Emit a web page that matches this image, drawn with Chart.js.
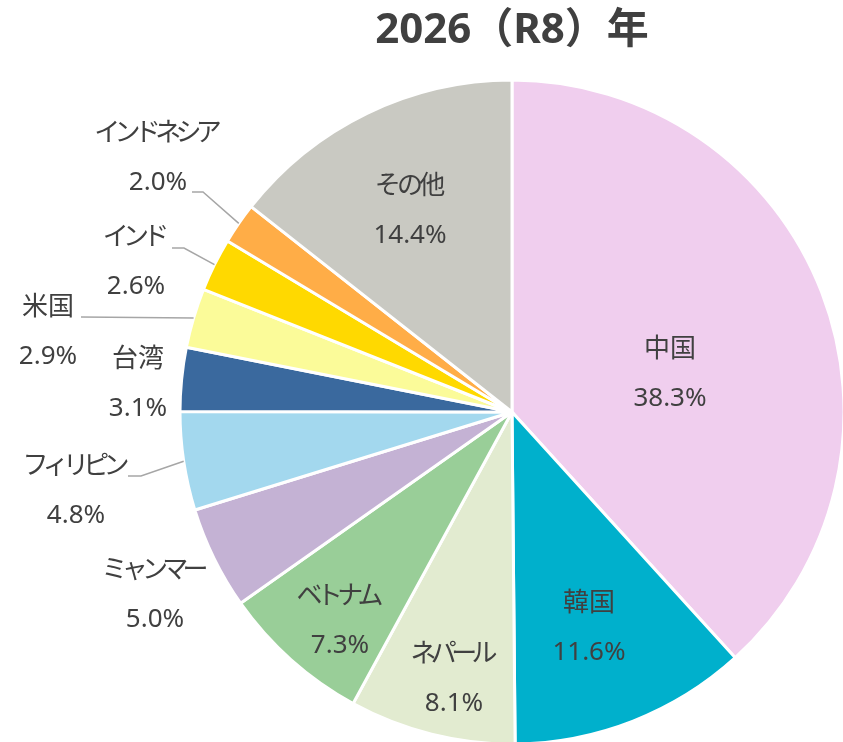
<!DOCTYPE html>
<html lang="ja">
<head>
<meta charset="utf-8">
<title>2026（R8）年</title>
<script src="https://cdn.jsdelivr.net/npm/chart.js@4.4.1/dist/chart.umd.min.js"></script>
<style>
  html, body { margin: 0; padding: 0; background: #fff; overflow: hidden; }
  #wrap { width: 843px; height: 760px; }
</style>
</head>
<body>
<div id="wrap"><canvas id="pie" width="843" height="760"></canvas></div>
<script>
const chartTitle = '2026（R8）年';
const countries = ['中国', '韓国', 'ネパール', 'ベトナム', 'ミャンマー', 'フィリピン', '台湾', '米国', 'インド', 'インドネシア', 'その他'];
const shares = [38.3, 11.6, 8.1, 7.3, 5.0, 4.8, 3.1, 2.9, 2.6, 2.0, 14.4];
const sliceColors = [
  'rgb(240,206,238)', 'rgb(0,176,204)', 'rgb(226,235,208)', 'rgb(153,206,152)',
  'rgb(196,178,212)', 'rgb(163,216,238)', 'rgb(58,105,158)', 'rgb(251,251,153)',
  'rgb(255,217,0)', 'rgb(255,173,71)', 'rgb(201,201,194)'
];

// where each label block sits, relative to the pie centre (x, middle y)
const labelPos = [
  [158, -38], [77, 216], [-58, 267], [-172, 209], [-357, 183], [-436, 79],
  [-374, -28], [-464, -80], [-376, -150], [-354, -254], [-102, -201]
];
// leader lines: [start x, start y, elbow x, elbow y] relative to centre, ends on the slice edge
const leaders = {
  5: [-384, 64, -371, 64],
  7: [-431, -95, -431, -95],
  8: [-340, -164, -328, -164],
  9: [-320, -220, -309, -220]
};

const FONT = "'Noto Sans', 'Noto Sans CJK JP', sans-serif";
const TEXT = '#404040';
const SIZE = 26;

// kana are set a bit narrower than full width, like the original
function drawJp(ctx, text, x, y) {
  ctx.letterSpacing = '0px';
  const natural = ctx.measureText(text).width;
  let want = 0;
  for (const ch of text) want += /[\u3040-\u30FF]/.test(ch) ? 0.78 * SIZE : SIZE;
  const ls = (want - natural) / text.length;
  ctx.letterSpacing = ls + 'px';
  ctx.fillText(text, x + ls / 2, y);
  ctx.letterSpacing = '0px';
}

const labelPlugin = {
  id: 'pieLabels',
  afterDatasetsDraw(chart) {
    const ctx = chart.ctx;
    const arcs = chart.getDatasetMeta(0).data;
    const cx = arcs[0].x, cy = arcs[0].y;

    ctx.save();
    // title
    ctx.fillStyle = TEXT;
    ctx.textAlign = 'center';
    ctx.textBaseline = 'middle';
    ctx.font = "bold 42px " + FONT;
    ctx.fillText(chartTitle, cx, 31);

    // leader lines
    ctx.strokeStyle = '#a6a6a6';
    ctx.lineWidth = 1.5;
    Object.keys(leaders).forEach(k => {
      const a = arcs[k];
      const mid = (a.startAngle + a.endAngle) / 2;
      const [sx, sy, ex, ey] = leaders[k];
      ctx.beginPath();
      ctx.moveTo(cx + sx, cy + sy);
      ctx.lineTo(cx + ex, cy + ey);
      ctx.lineTo(cx + Math.cos(mid) * a.outerRadius, cy + Math.sin(mid) * a.outerRadius);
      ctx.stroke();
    });

    // labels
    ctx.font = SIZE + "px " + FONT;
    ctx.fillStyle = TEXT;
    countries.forEach((name, i) => {
      const [dx, dy] = labelPos[i];
      drawJp(ctx, name, cx + dx, cy + dy - 24.5);
      ctx.fillText(shares[i].toFixed(1) + '%', cx + dx, cy + dy + 24.5);
    });
    ctx.restore();
  }
};

new Chart(document.getElementById('pie'), {
  type: 'pie',
  data: {
    labels: countries,
    datasets: [{
      data: shares,
      backgroundColor: sliceColors,
      borderColor: '#ffffff',
      borderWidth: 3,
      radius: 332
    }]
  },
  options: {
    responsive: false,
    animation: false,
    layout: { padding: { left: 181, right: 0, top: 81, bottom: 17 } },
    plugins: {
      legend: { display: false },
      tooltip: { enabled: false }
    }
  },
  plugins: [labelPlugin]
});
</script>
</body>
</html>
